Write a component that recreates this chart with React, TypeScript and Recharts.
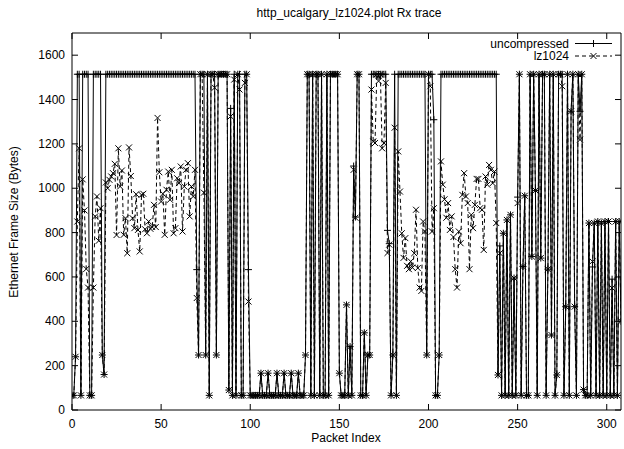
import { LineChart, Line, XAxis, YAxis, ReferenceArea } from 'recharts';

// chart box; the plot spans x 72..621, y 33..410
const WIDTH = 624;
const HEIGHT = 449;
const MARGIN = { top: 33, right: 3, bottom: 0, left: 0 };
const Y_AXIS_W = 72;
const X_AXIS_H = 39;
const PLOT_W = WIDTH - Y_AXIS_W - MARGIN.right;
const PLOT_H = HEIGHT - MARGIN.top - X_AXIS_H;

const FONT = '"Liberation Sans", Arial, Helvetica, sans-serif';

const X_MAX = 308;
const Y_MAX = 1700;
const xTicks = [0, 50, 100, 150, 200, 250, 300];
const yTicks = [0, 200, 400, 600, 800, 1000, 1200, 1400, 1600];

// frame sizes per received packet (bytes)
const uncompressed = [
  66, 66, 240, 1514, 1514, 66, 1514, 1514, 1514, 1514,
  66, 66, 1514, 1514, 1514, 1514, 1514, 248, 160, 1514,
  1514, 1514, 1514, 1514, 1514, 1514, 1514, 1514, 1514, 1514,
  1514, 1514, 1514, 1514, 1514, 1514, 1514, 1514, 1514, 1514,
  1514, 1514, 1514, 1514, 1514, 1514, 1514, 1514, 1514, 1514,
  1514, 1514, 1514, 1514, 1514, 1514, 1514, 1514, 1514, 1514,
  1514, 1514, 1514, 1514, 1514, 1514, 1514, 1514, 1514, 1514,
  633, 248, 1514, 1514, 1514, 248, 1514, 66, 1514, 1514,
  1514, 248, 1514, 1514, 1514, 1514, 1514, 1514, 90, 1360,
  66, 1514, 66, 1514, 1514, 66, 66, 1514, 1514, 633,
  66, 66, 66, 66, 66, 66, 166, 66, 66, 66,
  166, 66, 66, 66, 66, 166, 66, 66, 66, 166,
  66, 66, 66, 166, 66, 66, 66, 166, 66, 66,
  66, 248, 1514, 1514, 66, 1514, 66, 1514, 1514, 66,
  1514, 66, 66, 1514, 66, 1514, 1514, 1514, 1514, 1514,
  166, 66, 66, 66, 474, 66, 286, 66, 1100, 870,
  1514, 1514, 66, 66, 348, 66, 248, 248, 1514, 1514,
  1514, 1514, 1514, 1514, 1514, 1514, 1514, 810, 750, 66,
  248, 1514, 66, 1514, 1514, 1514, 1514, 1514, 1514, 1514,
  1514, 1514, 1514, 1514, 1514, 1514, 1514, 1514, 1514, 248,
  1514, 1514, 1514, 1309, 66, 66, 248, 1514, 1514, 1514,
  1514, 1514, 1514, 1514, 1514, 1514, 1514, 1514, 1514, 1514,
  1514, 1514, 1514, 1514, 1514, 1514, 1514, 1514, 1514, 1514,
  1514, 1514, 1514, 1514, 1514, 1514, 1514, 1514, 1514, 158,
  740, 66, 797, 66, 857, 66, 880, 66, 595, 66,
  960, 1514, 66, 647, 966, 66, 66, 1514, 692, 1514,
  990, 66, 1514, 685, 1514, 1514, 66, 635, 1514, 338,
  1514, 66, 158, 1514, 1514, 1514, 66, 466, 1514, 66,
  1347, 1514, 466, 66, 1514, 1347, 1514, 92, 66, 66,
  843, 66, 645, 843, 66, 850, 66, 843, 66, 850,
  66, 850, 66, 590, 66, 850, 66, 850, 400,
];

const lz1024 = [
  66, 66, 240, 850, 1180, 66, 1040, 900, 636, 552,
  66, 66, 552, 873, 963, 763, 910, 248, 160, 1026,
  1000, 1038, 1053, 1068, 1110, 789, 1180, 1008, 1080, 790,
  865, 707, 1184, 1055, 865, 820, 973, 812, 715, 970,
  975, 815, 797, 850, 817, 825, 925, 825, 1317, 1072,
  940, 975, 790, 993, 1075, 948, 1083, 797, 820, 1045,
  1023, 1098, 805, 1008, 1083, 1113, 873, 1008, 963, 1083,
  505, 248, 1514, 1514, 980, 248, 1514, 66, 1514, 1514,
  1453, 248, 1514, 1514, 1514, 1514, 1514, 1514, 90, 1324,
  66, 1490, 66, 1514, 1445, 66, 66, 1475, 1514, 489,
  66, 66, 66, 66, 66, 66, 166, 66, 66, 66,
  166, 66, 66, 66, 66, 166, 66, 66, 66, 166,
  66, 66, 66, 166, 66, 66, 66, 166, 66, 66,
  66, 248, 1514, 1514, 66, 1514, 66, 1514, 1514, 66,
  1514, 66, 66, 1514, 66, 1514, 1514, 1514, 1514, 1514,
  166, 66, 66, 66, 474, 66, 286, 66, 1083, 867,
  1514, 1514, 66, 66, 348, 66, 248, 248, 1445, 1211,
  1204, 1514, 1483, 1514, 1180, 1204, 1475, 708, 746, 66,
  248, 1273, 66, 1166, 985, 797, 686, 775, 650, 635,
  670, 642, 707, 903, 640, 552, 537, 850, 805, 248,
  1514, 1460, 805, 910, 66, 66, 248, 1121, 1016, 950,
  867, 933, 812, 873, 780, 635, 552, 805, 752, 970,
  1068, 963, 933, 635, 880, 820, 925, 1042, 1042, 910,
  903, 722, 1053, 1016, 1105, 1083, 1023, 1075, 843, 158,
  707, 66, 797, 66, 857, 66, 880, 66, 595, 66,
  933, 1514, 66, 647, 966, 66, 66, 1514, 692, 1514,
  990, 66, 1514, 685, 1514, 1514, 66, 635, 1514, 338,
  1514, 66, 158, 1514, 1514, 1460, 66, 466, 1514, 66,
  1347, 1514, 466, 66, 1514, 1219, 1514, 92, 66, 66,
  843, 66, 670, 843, 66, 850, 66, 843, 66, 850,
  66, 850, 66, 550, 66, 850, 66, 850, 400,
];

const data = uncompressed.map((v, i) => ({ idx: i, uncompressed: v, lz1024: lz1024[i] }));

// gnuplot point types: "+" and "x"
const plusPath = (x: number, y: number) => `M${x - 3.5},${y}h7M${x},${y - 3.5}v7`;
const crossPath = (x: number, y: number) => `M${x - 3},${y - 3}l6,6M${x - 3},${y + 3}l6,-6`;

const PlusDot = (props: any) => {
  const { cx, cy, index } = props;
  if (cx == null || cy == null) return <g key={`u-${index}`} />;
  return <path key={`u-${index}`} d={plusPath(cx, cy)} stroke="#000" strokeWidth={1} fill="none" />;
};

const CrossDot = (props: any) => {
  const { cx, cy, index } = props;
  if (cx == null || cy == null) return <g key={`l-${index}`} />;
  return <path key={`l-${index}`} d={crossPath(cx, cy)} stroke="#000" strokeWidth={1} fill="none" />;
};

// ticks point inward and are mirrored on the opposite border
const XTick = (props: any) => {
  const { x, y, payload } = props;
  return (
    <g>
      <line x1={x} x2={x} y1={y} y2={y - 6} stroke="#000" />
      <line x1={x} x2={x} y1={y - PLOT_H} y2={y - PLOT_H + 6} stroke="#000" />
      <text x={x} y={y + 18} textAnchor="middle" fontSize={12} fontFamily={FONT} fill="#000">
        {payload.value}
      </text>
    </g>
  );
};

const YTick = (props: any) => {
  const { x, y, payload } = props;
  return (
    <g>
      <line x1={x} x2={x + 6} y1={y} y2={y} stroke="#000" />
      <line x1={x + PLOT_W - 6} x2={x + PLOT_W} y1={y} y2={y} stroke="#000" />
      <text x={x - 7} y={y + 4} textAnchor="end" fontSize={12} fontFamily={FONT} fill="#000">
        {payload.value}
      </text>
    </g>
  );
};

const textStyle = { fontFamily: FONT, fontSize: 12, fill: '#000' };

export default function App() {
  return (
    <div style={{ position: 'relative', width: WIDTH, height: HEIGHT, background: '#fff' }}>
      <style>{'body{margin:0;background:#fff}'}</style>
      <LineChart width={WIDTH} height={HEIGHT} data={data} margin={MARGIN}>
        <ReferenceArea
          x1={0}
          x2={X_MAX}
          y1={0}
          y2={Y_MAX}
          fill="none"
          stroke="#000"
          strokeWidth={1}
          fillOpacity={0}
          ifOverflow="visible"
        />
        <XAxis
          dataKey="idx"
          type="number"
          domain={[0, X_MAX]}
          ticks={xTicks}
          interval={0}
          height={X_AXIS_H}
          tickSize={0}
          tickMargin={0}
          axisLine={false}
          tickLine={false}
          tick={XTick}
          allowDataOverflow
        />
        <YAxis
          type="number"
          domain={[0, Y_MAX]}
          ticks={yTicks}
          interval={0}
          width={Y_AXIS_W}
          tickSize={0}
          tickMargin={0}
          axisLine={false}
          tickLine={false}
          tick={YTick}
          allowDataOverflow
        />
        <Line
          dataKey="uncompressed"
          type="linear"
          stroke="#000"
          strokeWidth={1}
          dot={PlusDot}
          activeDot={false}
          isAnimationActive={false}
        />
        <Line
          dataKey="lz1024"
          type="linear"
          stroke="#000"
          strokeWidth={1}
          strokeDasharray="4 3"
          dot={CrossDot}
          activeDot={false}
          isAnimationActive={false}
        />
      </LineChart>
      <svg
        width={WIDTH}
        height={HEIGHT}
        style={{ position: 'absolute', left: 0, top: 0, pointerEvents: 'none' }}
      >
        <text x={349} y={17} textAnchor="middle" {...textStyle}>
          http_ucalgary_lz1024.plot Rx trace
        </text>
        <text x={346} y={442} textAnchor="middle" {...textStyle}>
          Packet Index
        </text>
        <text
          x={0}
          y={0}
          textAnchor="middle"
          transform="translate(18,222) rotate(-90)"
          {...textStyle}
        >
          Ethernet Frame Size (Bytes)
        </text>
        {/* key */}
        <text x={569} y={47.5} textAnchor="end" {...textStyle}>uncompressed</text>
        <line x1={575} x2={612} y1={43.5} y2={43.5} stroke="#000" />
        <path d={plusPath(593.5, 43.5)} stroke="#000" fill="none" />
        <text x={569} y={60} textAnchor="end" {...textStyle}>lz1024</text>
        <line x1={575} x2={612} y1={56} y2={56} stroke="#000" strokeDasharray="4 3" />
        <path d={crossPath(593.5, 56)} stroke="#000" fill="none" />
      </svg>
    </div>
  );
}
